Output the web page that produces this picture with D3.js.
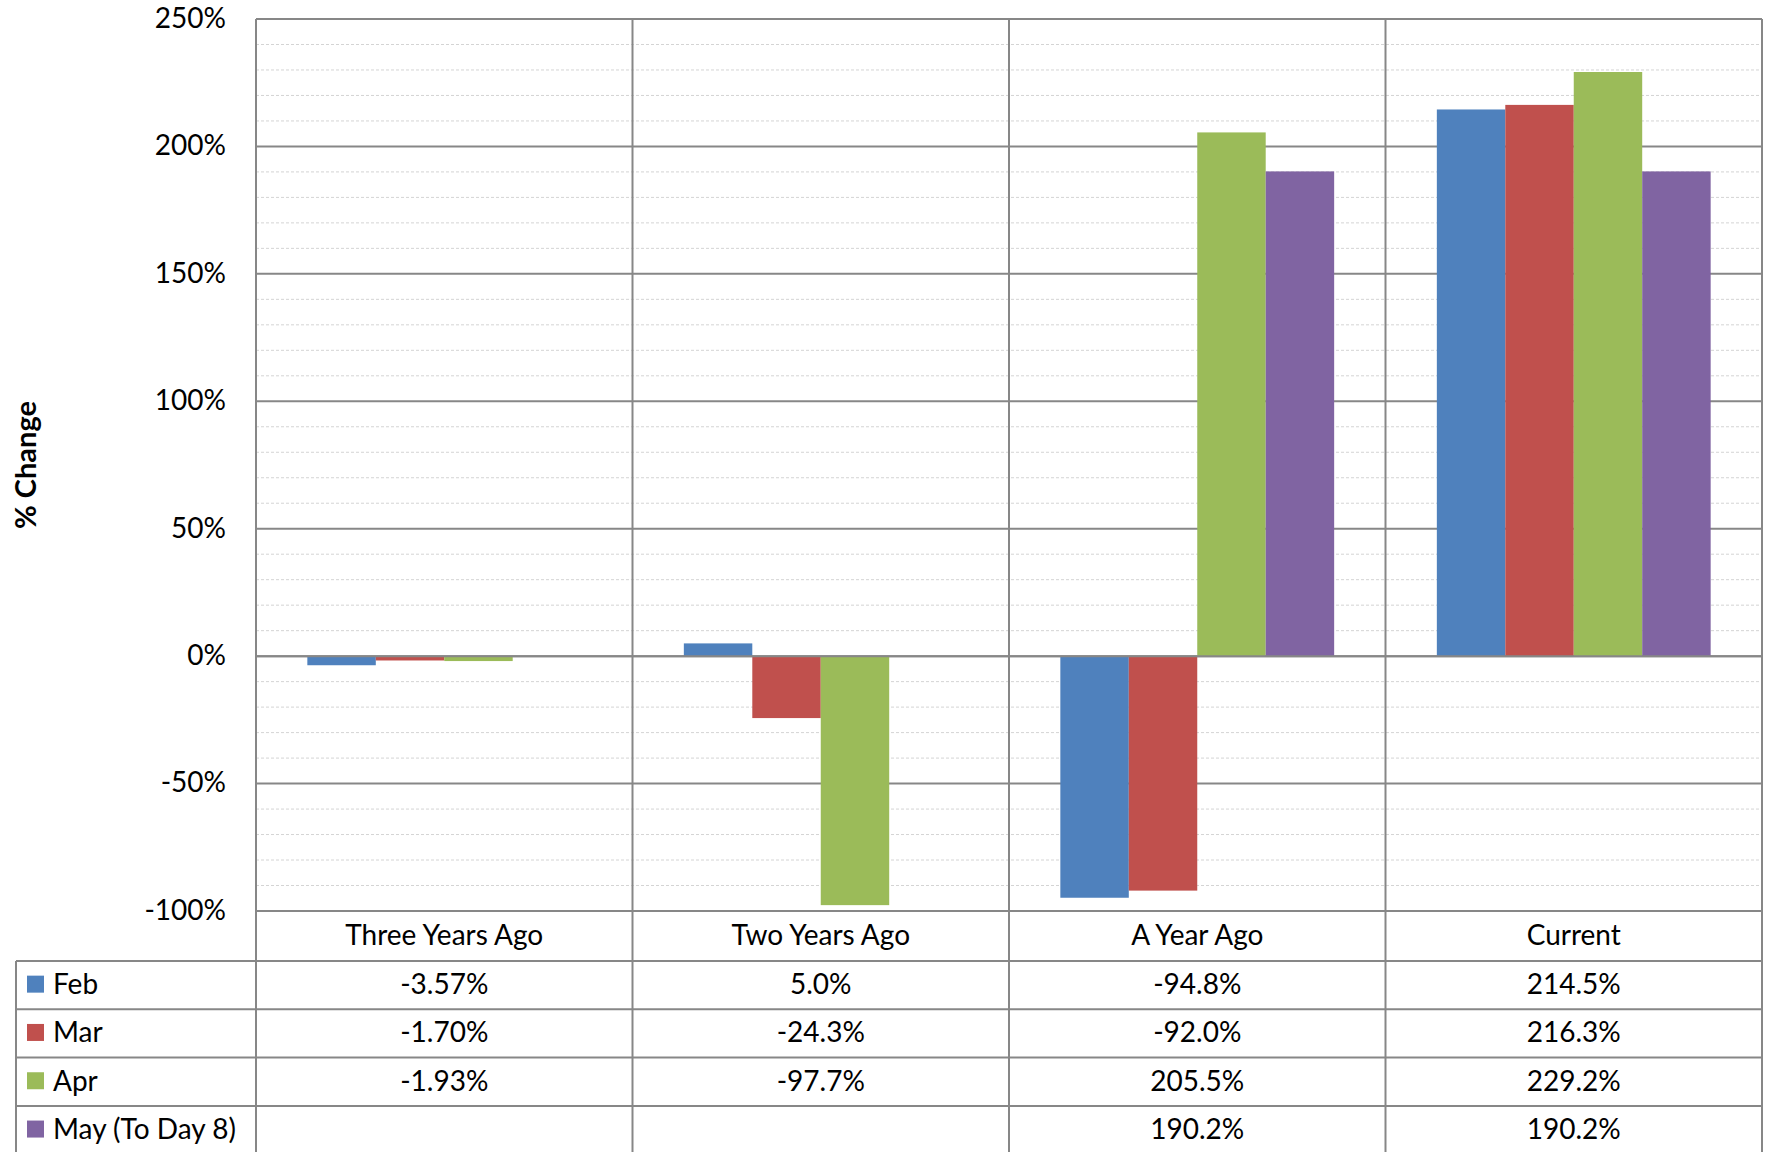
<!DOCTYPE html>
<html><head><meta charset="utf-8">
<script src="https://cdn.jsdelivr.net/npm/d3@7"></script>
<style>body{margin:0;background:#fff;} svg{display:block;} text{font-family:Lato, "Open Sans", sans-serif;fill:#000;}</style>
</head><body>
<svg id="c" width="1767" height="1152"></svg>
<script>
const categories = ["Three Years Ago", "Two Years Ago", "A Year Ago", "Current"];
const seriesNames = ["Feb", "Mar", "Apr", "May (To Day 8)"];
const seriesColors = ["#4F81BD", "#C0504D", "#9BBB59", "#8064A2"];
const feb = [-3.57, 5.0, -94.8, 214.5];
const mar = [-1.70, -24.3, -92.0, 216.3];
const apr = [-1.93, -97.7, 205.5, 229.2];
const may = [null, null, 190.2, 190.2];
const febLabels = ["-3.57%", "5.0%", "-94.8%", "214.5%"];
const marLabels = ["-1.70%", "-24.3%", "-92.0%", "216.3%"];
const aprLabels = ["-1.93%", "-97.7%", "205.5%", "229.2%"];
const mayLabels = ["", "", "190.2%", "190.2%"];
const yTicks = [-100, -50, 0, 50, 100, 150, 200, 250];
const yTitle = "% Change";

const series = [feb, mar, apr, may];
const labels = [febLabels, marLabels, aprLabels, mayLabels];

const svg = d3.select("#c");
const L = 256, R = 1762, T = 19, B = 911;
const tableLeft = 16;
const rowH = 48.3;
const fs = 28;

const x = d3.scaleBand().domain(categories).range([L, R]).paddingInner(0).paddingOuter(0);
const y = d3.scaleLinear().domain([-100, 250]).range([B, T]);
const bw = x.bandwidth() / 5.5;
const xs = d3.scaleBand().domain(d3.range(4)).range([0.75 * bw, 4.75 * bw]).padding(0);

// minor gridlines
const minor = d3.range(-100, 251, 10).filter(v => v % 50 !== 0);
svg.append("g").selectAll("line").data(minor).join("line")
  .attr("x1", L).attr("x2", R).attr("y1", d => y(d)).attr("y2", d => y(d))
  .attr("stroke", "#d4d4d4").attr("stroke-width", 1).attr("stroke-dasharray", "3,2");

// major gridlines
svg.append("g").selectAll("line").data(yTicks).join("line")
  .attr("x1", L).attr("x2", R).attr("y1", d => y(d)).attr("y2", d => y(d))
  .attr("stroke", "#878787").attr("stroke-width", 2);

// bars
const g = svg.append("g");
series.forEach((s, si) => {
  g.selectAll(null).data(categories.map((c, i) => ({c, v: s[i]})).filter(d => d.v != null)).join("rect")
    .attr("x", d => x(d.c) + xs(si))
    .attr("width", xs.bandwidth())
    .attr("y", d => Math.min(y(d.v), y(0)))
    .attr("height", d => Math.abs(y(d.v) - y(0)))
    .attr("fill", seriesColors[si]);
});

// zero line on top
svg.append("line").attr("x1", L).attr("x2", R).attr("y1", y(0)).attr("y2", y(0))
  .attr("stroke", "#878787").attr("stroke-width", 2);

// y axis labels
const yAxis = d3.axisLeft(y).tickValues(yTicks).tickFormat(d => d + "%").tickSize(0).tickPadding(30);
const ya = svg.append("g").attr("transform", `translate(${L},0)`).call(yAxis);
ya.select(".domain").remove();
ya.selectAll("text").style("font-size", fs + "px").style("font-family", "Lato, sans-serif").attr("fill", "#000").attr("dy", "0.3em");

// y title
svg.append("text").attr("transform", `translate(36,${(T + B) / 2}) rotate(-90)`)
  .attr("text-anchor", "middle").style("font-size", "29px").style("font-weight", "bold").text(yTitle);

// table
const tableTop = B;
const catRowBottom = tableTop + 50;
const tableBottom = catRowBottom + rowH * 4;
const lineCol = "#878787";

const vx = categories.map(c => x(c)).concat([R]);
svg.append("g").selectAll("line").data(vx).join("line")
  .attr("x1", d => d).attr("x2", d => d).attr("y1", T).attr("y2", tableBottom)
  .attr("stroke", lineCol).attr("stroke-width", 2);
svg.append("line").attr("x1", tableLeft).attr("x2", tableLeft).attr("y1", catRowBottom).attr("y2", tableBottom)
  .attr("stroke", lineCol).attr("stroke-width", 2);
svg.append("line").attr("x1", L).attr("x2", R).attr("y1", T).attr("y2", T).attr("stroke", lineCol).attr("stroke-width", 2);
const hy = d3.range(5).map(i => catRowBottom + i * rowH);
svg.append("g").selectAll("line").data(hy).join("line")
  .attr("x1", tableLeft).attr("x2", R).attr("y1", d => d).attr("y2", d => d)
  .attr("stroke", lineCol).attr("stroke-width", 2);

// category labels
svg.append("g").selectAll("text").data(categories).join("text")
  .attr("x", d => x(d) + x.bandwidth() / 2).attr("y", (tableTop + catRowBottom) / 2 - 2)
  .attr("text-anchor", "middle").attr("dominant-baseline", "central")
  .style("font-size", fs + "px").text(d => d);

// rows
seriesNames.forEach((name, si) => {
  const cy = catRowBottom + si * rowH + rowH / 2 - 2;
  svg.append("rect").attr("x", 27).attr("y", cy - 7.5).attr("width", 17).attr("height", 17).attr("fill", seriesColors[si]);
  svg.append("text").attr("x", 53).attr("y", cy).attr("dominant-baseline", "central")
    .style("font-size", fs + "px").text(name);
  svg.append("g").selectAll("text").data(categories).join("text")
    .attr("x", d => x(d) + x.bandwidth() / 2).attr("y", cy)
    .attr("text-anchor", "middle").attr("dominant-baseline", "central")
    .style("font-size", fs + "px").text((d, i) => labels[si][i]);
});
</script>
</body></html>
